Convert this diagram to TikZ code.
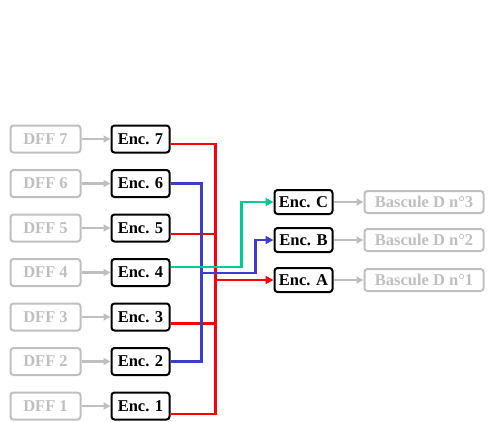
\documentclass[tikz,border=0pt]{standalone}
\usepackage{fontspec}
\setmainfont{Liberation Serif}
\usepackage{tikz}
\usetikzlibrary{arrows.meta, positioning, calc}
\definecolor{mygray}{RGB}{191,191,191}
\definecolor{myred}{RGB}{255,0,0}
\definecolor{myblue}{RGB}{60,60,205}
\definecolor{mygreen}{RGB}{0,200,150}
\tikzset{
  dffbox/.style={rectangle, draw=mygray, text=mygray, minimum width=70pt,
    minimum height=27pt, inner sep=0pt, rounded corners=3pt, line width=2pt,
    font=\fontsize{16.5}{18}\selectfont\bfseries},
  encbox/.style={rectangle, draw=black, minimum width=58pt,
    minimum height=27pt, inner sep=0pt, rounded corners=3pt, line width=2pt,
    font=\fontsize{16.5}{18}\selectfont\bfseries},
  outbox/.style={encbox, minimum height=24pt},
  bascbox/.style={dffbox, minimum width=119pt, minimum height=22pt},
  grayarrow/.style={-{Triangle[length=7pt,width=7pt]}, line width=2.2pt, color=mygray},
  redwire/.style={line width=2.4pt, color=myred},
  bluewire/.style={line width=2.4pt, color=myblue},
  redarrow/.style={-{Triangle[length=8pt,width=8pt]}, line width=2.4pt, color=myred},
  bluearrow/.style={-{Triangle[length=8pt,width=8pt]}, line width=2.4pt, color=myblue},
  greenarrow/.style={-{Triangle[length=8pt,width=8pt]}, line width=2.4pt, color=mygreen}
}
\begin{document}
\begin{tikzpicture}[x=1pt, y=-1pt, node distance=15.5pt and 29pt]
  \useasboundingbox (0,0) rectangle (488,421);
  % Bascules DFF
  \node[dffbox] (dff7) at (45.5,139) {DFF 7};
  \node[dffbox, below=of dff7] (dff6) {DFF 6};
  \node[dffbox, below=of dff6] (dff5) {DFF 5};
  \node[dffbox, below=of dff5] (dff4) {DFF 4};
  \node[dffbox, below=of dff4] (dff3) {DFF 3};
  \node[dffbox, below=of dff3] (dff2) {DFF 2};
  \node[dffbox, below=of dff2] (dff1) {DFF 1};
  % Encodeurs d'entree
  \node[encbox, right=of dff7] (enc7) {Enc. 7};
  \node[encbox, right=of dff6] (enc6) {Enc. 6};
  \node[encbox, right=of dff5] (enc5) {Enc. 5};
  \node[encbox, right=of dff4] (enc4) {Enc. 4};
  \node[encbox, right=of dff3] (enc3) {Enc. 3};
  \node[encbox, right=of dff2] (enc2) {Enc. 2};
  \node[encbox, right=of dff1] (enc1) {Enc. 1};
  % Encodeurs de sortie
  \node[outbox] (encC) at (303.5,202) {Enc. C};
  \node[outbox, below=12pt of encC] (encB) {Enc. B};
  \node[outbox, below=14pt of encB] (encA) {Enc. A};
  % Bascules D
  \node[bascbox, right=30pt of encC] (bascC) {Bascule D n°3};
  \node[bascbox, right=30pt of encB] (bascB) {Bascule D n°2};
  \node[bascbox, right=30pt of encA] (bascA) {Bascule D n°1};
  % Connexions
  \draw[grayarrow] (dff7) -- (enc7);
  \draw[grayarrow] (dff6) -- (enc6);
  \draw[grayarrow] (dff5) -- (enc5);
  \draw[grayarrow] (dff4) -- (enc4);
  \draw[grayarrow] (dff3) -- (enc3);
  \draw[grayarrow] (dff2) -- (enc2);
  \draw[grayarrow] (dff1) -- (enc1);
  \draw[grayarrow] (encC) -- (bascC);
  \draw[grayarrow] (encB) -- (bascB);
  \draw[grayarrow] (encA) -- (bascA);
  % bus rouge
  \coordinate (redbus) at ($(enc7.-10)+(45pt,0)$);
  \draw[redwire] (enc7.-10) -- (redbus) |- (enc1.-15);
  \draw[redwire] (enc5.-11) -- (redbus |- enc5.-11);
  \draw[redwire] (enc3.-12) -- (redbus |- enc3.-12);
  \draw[redarrow] (redbus |- encA.west) -- (encA.west);
  % bus bleu
  \coordinate (bluebus) at ($(enc6.east)+(31pt,0)$);
  \draw[bluewire] (enc6.east) -- (bluebus) |- (enc2.east);
  \draw[bluearrow] ($(bluebus |- encA.west)+(0,7pt)$) -| ($(encB.west)+(-18pt,0)$) -- (encB.west);
  % vert
  \draw[greenarrow] (enc4.10) -| ($(encC.west)+(-32pt,0)$) -- (encC.west);
\end{tikzpicture}
\end{document}
